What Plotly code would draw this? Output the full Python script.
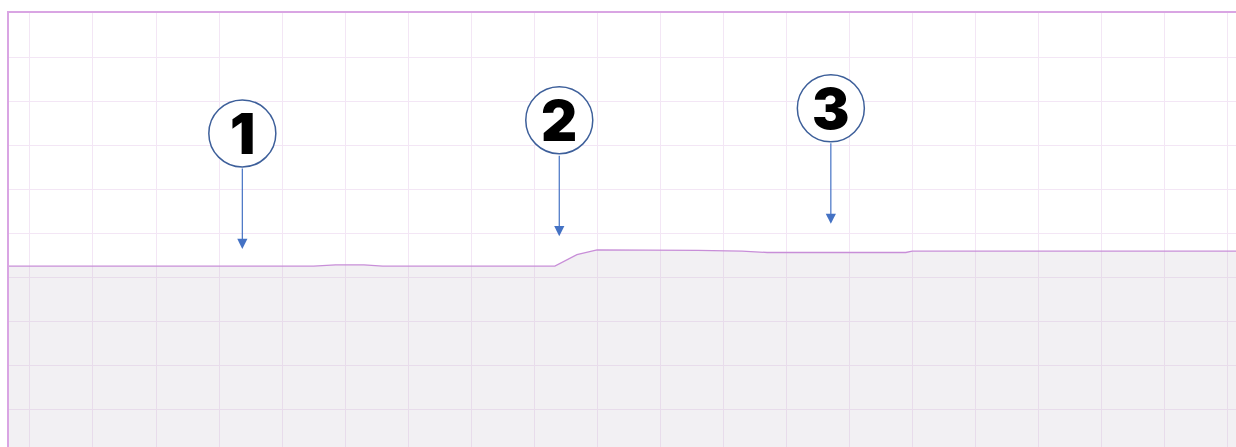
import plotly.graph_objects as go

# Line trace (x in grid units, y in grid units)
x_vals = [-0.34, 4.5, 4.85, 5.3, 5.6, 8.33, 8.68, 9.0, 10.6, 11.3, 11.7, 13.9, 14.0, 19.2]
y_vals = [4.10, 4.10, 4.13, 4.13, 4.10, 4.10, 4.36, 4.47, 4.46, 4.44, 4.41, 4.41, 4.44, 4.44]

# Callout markers
labels = ['1', '2', '3']
label_x = [3.37, 8.40, 12.71]
label_y = [7.11, 7.41, 7.68]
tip_y = [4.49, 4.78, 5.06]

fig = go.Figure()

fig.add_trace(go.Scatter(
    x=x_vals,
    y=y_vals,
    mode='lines',
    line=dict(color='#c88ed8', width=1.3),
    fill='tozeroy',
    fillcolor='rgba(190,180,195,0.2)',
    showlegend=False,
    hoverinfo='skip'
))

# Circles, numbers and arrows
for lab, lx, ly, ty in zip(labels, label_x, label_y, tip_y):
    fig.add_shape(
        type='circle',
        xref='x', yref='y',
        xsizemode='pixel', ysizemode='pixel',
        xanchor=lx, yanchor=ly,
        x0=-33.5, x1=33.5, y0=-33.5, y1=33.5,
        line=dict(color='#3d5f9a', width=1.5),
        fillcolor='white'
    )
    fig.add_annotation(
        x=lx, y=ly,
        text=lab,
        showarrow=False,
        font=dict(family='Inter', size=56, color='black', weight=900),
        yshift=-1
    )
    fig.add_annotation(
        x=lx, y=ty,
        text='',
        showarrow=True,
        ax=0, ay=-82,
        arrowhead=2,
        arrowsize=1.7,
        arrowwidth=1.2,
        arrowcolor='#4472c4'
    )

fig.update_layout(
    width=1236,
    height=447,
    plot_bgcolor='white',
    paper_bgcolor='white',
    margin=dict(l=9, r=0, t=13, b=0),
    xaxis=dict(
        range=[-0.333, 19.14],
        dtick=1, tick0=0,
        showgrid=True, gridcolor='#f3e6f5', gridwidth=1,
        zeroline=False,
        showticklabels=False,
        showline=True, linecolor='#d9a5e3', linewidth=2,
        side='top'
    ),
    yaxis=dict(
        range=[0, 9.84],
        dtick=1, tick0=0.84,
        showgrid=True, gridcolor='#f3e6f5', gridwidth=1,
        zeroline=False,
        showticklabels=False,
        showline=True, linecolor='#d9a5e3', linewidth=2
    )
)

# remove default page margin so the figure sits at the window's corner
fig.write_html("out.html",
               config={'displayModeBar': False},
               post_script="document.body.style.margin='0';document.body.style.overflow='hidden';")
